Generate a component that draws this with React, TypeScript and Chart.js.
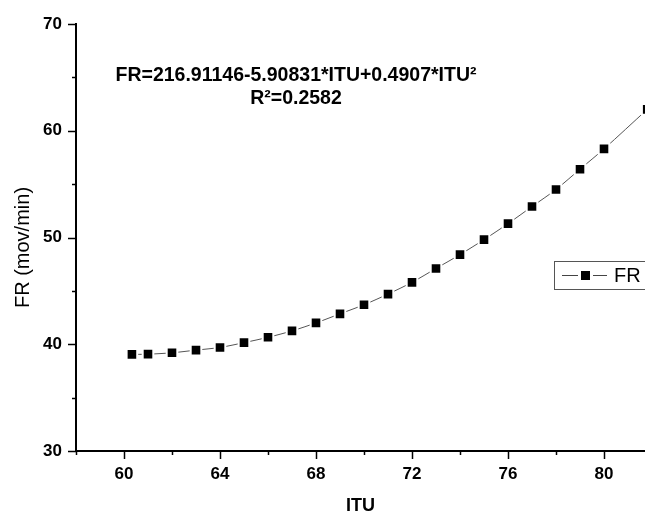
import React, { useEffect, useRef } from "react";
import { Chart, registerables } from "chart.js";

Chart.register(...registerables);

const ituValues = [60.33, 61, 62, 63, 64, 65, 66, 67, 68, 69, 70, 71, 72, 73, 74, 75, 76, 77, 78, 79, 80, 81.8];
const frValues = [39.05, 39.07, 39.2, 39.45, 39.7, 40.15, 40.65, 41.25, 42.0, 42.85, 43.7, 44.7, 45.8, 47.1, 48.4, 49.8, 51.3, 52.9, 54.5, 56.4, 58.3, 62.0];
const xMajorTicks = [60, 64, 68, 72, 76, 80];
const yMajorTicks = [30, 40, 50, 60, 70];
const equationLines = ["FR=216.91146-5.90831*ITU+0.4907*ITU²", "R²=0.2582"];
const seriesName = "FR";
const xTitle = "ITU";
const yTitle = "FR (mov/min)";

const FONT = "Arial, 'Liberation Sans', sans-serif";

const tickPlugin = {
  id: "originTicks",
  afterDraw(chart: any) {
    const ctx = chart.ctx;
    const area = chart.chartArea;
    const xs = chart.scales.x;
    const ys = chart.scales.y;
    ctx.save();
    ctx.strokeStyle = "#000";
    ctx.lineWidth = 1.5;
    xs.ticks.forEach((t: any) => {
      const px = Math.round(xs.getPixelForValue(t.value)) + 0.5;
      const len = xMajorTicks.includes(t.value) ? 8 : 4;
      ctx.beginPath();
      ctx.moveTo(px, area.bottom);
      ctx.lineTo(px, area.bottom + len);
      ctx.stroke();
    });
    ys.ticks.forEach((t: any) => {
      const py = Math.round(ys.getPixelForValue(t.value)) + 0.5;
      const len = yMajorTicks.includes(t.value) ? 8 : 4;
      ctx.beginPath();
      ctx.moveTo(area.left, py);
      ctx.lineTo(area.left - len, py);
      ctx.stroke();
    });

    // y axis title
    ctx.save();
    ctx.translate(23, (area.top + area.bottom) / 2 + 10);
    ctx.rotate(-Math.PI / 2);
    ctx.fillStyle = "#000";
    ctx.font = `20px ${FONT}`;
    ctx.textAlign = "center";
    ctx.textBaseline = "middle";
    ctx.fillText(yTitle, 0, 0);
    ctx.restore();

    // equation annotation
    ctx.fillStyle = "#000";
    ctx.font = `bold 19.5px ${FONT}`;
    ctx.textAlign = "center";
    ctx.textBaseline = "alphabetic";
    ctx.fillText(equationLines[0], 296, 81);
    ctx.fillText(equationLines[1], 296, 104);

    // legend box
    ctx.strokeStyle = "#555";
    ctx.lineWidth = 1;
    ctx.strokeRect(554.5, 261.5, 200, 28);
    ctx.strokeStyle = "#444";
    ctx.beginPath();
    ctx.moveTo(562, 275.5);
    ctx.lineTo(607, 275.5);
    ctx.stroke();
    ctx.fillStyle = "#fff";
    ctx.fillRect(578, 268, 15, 15);
    ctx.fillStyle = "#000";
    ctx.fillRect(581, 271, 9, 9);
    ctx.font = `20px ${FONT}`;
    ctx.textAlign = "left";
    ctx.textBaseline = "middle";
    ctx.fillText(seriesName, 614, 276);
    ctx.restore();
  },
};

export default function App() {
  const ref = useRef<HTMLCanvasElement>(null);
  useEffect(() => {
    if (!ref.current) return;
    const chart = new Chart(ref.current, {
      type: "line",
      data: {
        datasets: [
          {
            label: seriesName,
            data: ituValues.map((x, i) => ({ x, y: frValues[i] })),
            borderColor: "#555",
            borderWidth: 1,
            tension: 0.3,
            pointStyle: "rect",
            pointRadius: 7.5,
            pointBackgroundColor: "#000",
            pointBorderColor: "#fff",
            pointBorderWidth: 2,
            clip: false as any,
          },
        ],
      },
      options: {
        animation: false,
        responsive: false,
        layout: { autoPadding: false, padding: { top: 24, left: 0, right: 0, bottom: 0 } },
        plugins: { legend: { display: false }, tooltip: { enabled: false } },
        scales: {
          x: {
            type: "linear",
            min: 58,
            max: 81.708,
            afterFit: (s: any) => {
              s.height = 62;
              s.paddingLeft = 0;
              s.paddingRight = 0;
            },
            ticks: {
              stepSize: 2,
              includeBounds: false,
              autoSkip: false,
              maxRotation: 0,
              padding: 13,
              color: "#000",
              font: { family: FONT, size: 17, weight: "bold" },
              callback: (v: any) => (xMajorTicks.includes(v) ? String(v) : ""),
            },
            grid: { display: false, drawTicks: false },
            border: { display: true, color: "#000", width: 2 },
            title: {
              display: true,
              text: xTitle,
              color: "#000",
              font: { family: FONT, size: 18, weight: "bold", lineHeight: 0.8 },
              padding: { top: 0, bottom: 0 },
            },
          },
          y: {
            type: "linear",
            min: 30,
            max: 70,
            afterFit: (s: any) => {
              s.width = 76;
              s.paddingTop = 0;
              s.paddingBottom = 0;
            },
            ticks: {
              stepSize: 5,
              autoSkip: false,
              padding: 14,
              color: "#000",
              font: { family: FONT, size: 17, weight: "bold" },
              callback: (v: any) => (yMajorTicks.includes(v) ? String(v) : ""),
            },
            grid: { display: false, drawTicks: false },
            border: { display: true, color: "#000", width: 2 },
            title: { display: false, text: yTitle },
          },
        },
      },
      plugins: [tickPlugin],
    });
    return () => chart.destroy();
  }, []);
  return (
    <div style={{ position: "fixed", left: 0, top: 0, width: 645, height: 513, background: "#fff" }}>
      <canvas ref={ref} width={645} height={513} style={{ display: "block" }} />
    </div>
  );
}
